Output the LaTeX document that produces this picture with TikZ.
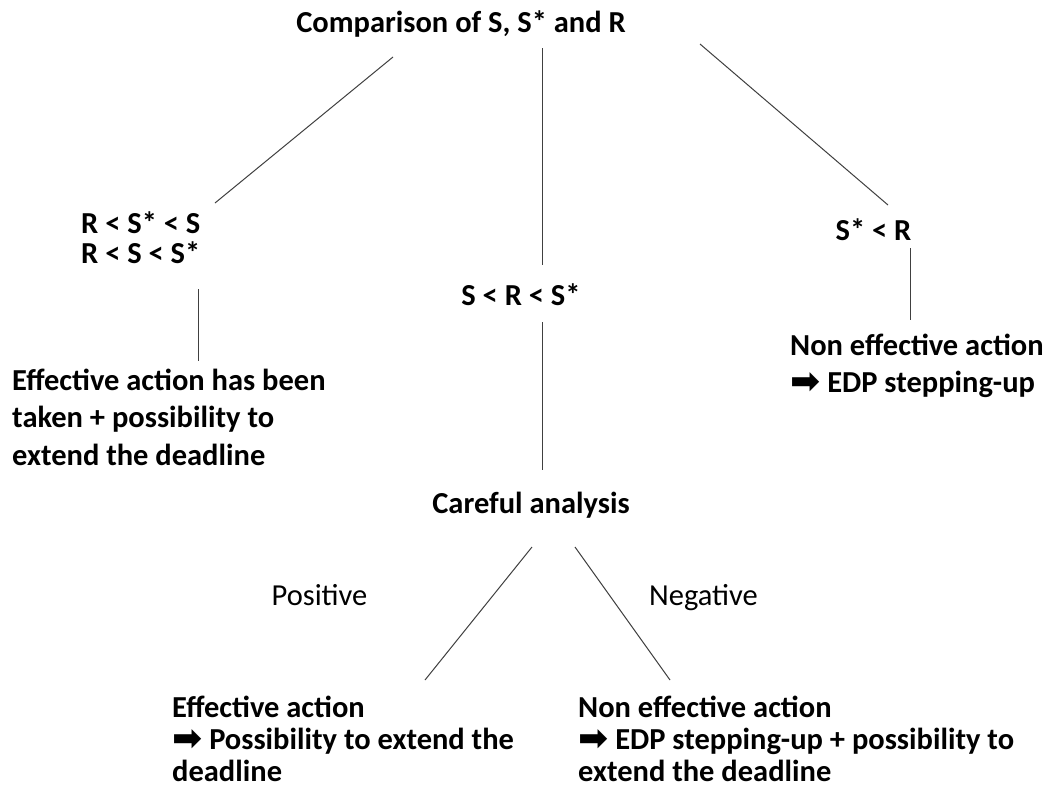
\documentclass[tikz,border=0pt]{standalone}
\usepackage{fontspec}
\setmainfont{Carlito}
\newfontfamily\arrowfont{DejaVu Sans}
\usepackage{tikz}
\usetikzlibrary{positioning}

\newcommand{\rarr}{\raisebox{-1.5pt}{\arrowfont\fontsize{36}{36}\selectfont ➡}}
\newcommand{\firstline}{\rule{0pt}{25pt}}

\begin{document}
\begin{tikzpicture}[
        x=1pt, y=-1pt,
        txt/.style={inner sep=0pt, align=left, font=\bfseries\fontsize{30.5}{32}\selectfont},
        lbl/.style={inner sep=0pt, font=\fontsize{30.5}{32}\selectfont},
        link/.style={draw=black!75, line width=1pt}
    ]
        \useasboundingbox[fill=white] (0,0) rectangle (1053,798);

        % top
        \node[txt, anchor=base] (title) at (461,32) {Comparison of S, S* and R};

        % left branch
        \node[txt, anchor=north west, font=\bfseries\fontsize{30.5}{30}\selectfont] (ineqA) at (81,208)
            {\firstline R < S* < S\\R < S < S*};
        \node[txt, anchor=north west, font=\bfseries\fontsize{30.5}{37.5}\selectfont] (effA) at (12,365)
            {\firstline Effective action has been\\taken + possibility to\\extend the deadline};

        % middle branch
        \node[txt, anchor=base] (ineqB) at (521,305) {S < R < S*};
        \node[txt, anchor=base] (careful) at (531,513) {Careful analysis};
        \node[lbl, anchor=base] (pos) at (319.5,605) {Positive};
        \node[lbl, anchor=base] (neg) at (703.5,605) {Negative};
        \node[txt, anchor=north west] (effB) at (172,692)
            {\firstline Effective action\\\rarr{} Possibility to extend the\\deadline};
        \node[txt, anchor=north west] (noneffB) at (578,692)
            {\firstline Non effective action\\\rarr{} EDP stepping-up + possibility to\\extend the deadline};

        % right branch
        \node[txt, anchor=base] (ineqC) at (873.5,240) {S* < R};
        \node[txt, anchor=north west, font=\bfseries\fontsize{30.5}{37}\selectfont] (noneffC) at (790,330)
            {\firstline Non effective action\\\rarr{} EDP stepping-up};

        % connectors
        \draw[link] ([shift={(-68,25)}]title.base) -- ([shift={(134,-5)}]ineqA.north west);
        \draw[link] ([shift={(81,16)}]title.base) -- ([shift={(21,-40)}]ineqB.base);
        \draw[link] ([shift={(239,12)}]title.base) -- ([shift={(14.5,-35)}]ineqC.base);
        \draw[link] ([shift={(117,81)}]ineqA.north west) -- ([shift={(186,-4)}]effA.north west);
        \draw[link] ([shift={(36.5,8)}]ineqC.base) -- ([shift={(120,-10)}]noneffC.north west);
        \draw[link] ([shift={(21,17)}]ineqB.base) -- ([shift={(11,-43)}]careful.base);
        \draw[link] ([shift={(1,34)}]careful.base) -- ([shift={(253,-12)}]effB.north west);
        \draw[link] ([shift={(44,34)}]careful.base) -- ([shift={(92,-12)}]noneffB.north west);
    \end{tikzpicture}
\end{document}
